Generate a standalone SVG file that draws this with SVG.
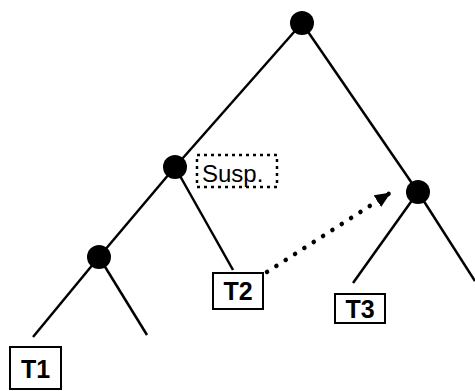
<svg xmlns="http://www.w3.org/2000/svg" width="475" height="391" viewBox="0 0 475 391">
<style>
.edge{stroke:#000;stroke-width:2.5;fill:none;stroke-linecap:butt}
.dot{fill:#000}
.box{fill:#fff;stroke:#000;stroke-width:2}
.lbl{font-family:"Liberation Sans",Arial,sans-serif;font-weight:bold;font-size:25px;fill:#000}
.susp{font-family:"Liberation Sans",Arial,sans-serif;font-size:24px;fill:#000}
</style>
<defs>
<marker id="ah" markerWidth="16" markerHeight="14" refX="15" refY="7" orient="auto" markerUnits="userSpaceOnUse">
<path d="M0,0 L16,7 L0,14 Z" fill="#000"/>
</marker>
</defs>
<rect width="475" height="391" fill="#fff"/>
<g id="connectors">
<line class="edge" x1="302" y1="23" x2="175" y2="167"/>
<line class="edge" x1="302" y1="23" x2="418" y2="192"/>
<line class="edge" x1="175" y1="167" x2="99" y2="257"/>
<line class="edge" x1="175" y1="167" x2="233" y2="270"/>
<line class="edge" x1="99" y1="257" x2="33" y2="337"/>
<line class="edge" x1="99" y1="257" x2="147" y2="335"/>
<line class="edge" x1="418" y1="192" x2="353" y2="283"/>
<line class="edge" x1="418" y1="192" x2="475" y2="281"/>
<line x1="267" y1="272" x2="390" y2="193" stroke="#000" stroke-width="4.5" stroke-linecap="round" stroke-dasharray="0.1 11" marker-end="url(#ah)"/>
</g>
<g id="root"><circle class="dot" cx="302" cy="23" r="12"/></g>
<g id="n-susp"><circle class="dot" cx="175" cy="167" r="12"/></g>
<g id="n-left"><circle class="dot" cx="99" cy="257" r="12"/></g>
<g id="n-right"><circle class="dot" cx="418" cy="192" r="12"/></g>
<g id="susp">
<rect x="197" y="155" width="80" height="32" fill="none" stroke="#000" stroke-width="2.5" stroke-dasharray="3 4"/>
<text class="susp" x="202" y="182">Susp.</text>
</g>
<g id="T1">
<rect class="box" x="10" y="347" width="51" height="42"/>
<text class="lbl" x="35.5" y="378" text-anchor="middle">T1</text>
</g>
<g id="T2">
<rect class="box" x="213" y="273" width="50" height="36"/>
<text class="lbl" x="238" y="300" text-anchor="middle">T2</text>
</g>
<g id="T3">
<rect class="box" x="335" y="294" width="50" height="29"/>
<text class="lbl" x="360" y="318" text-anchor="middle">T3</text>
</g>
</svg>
